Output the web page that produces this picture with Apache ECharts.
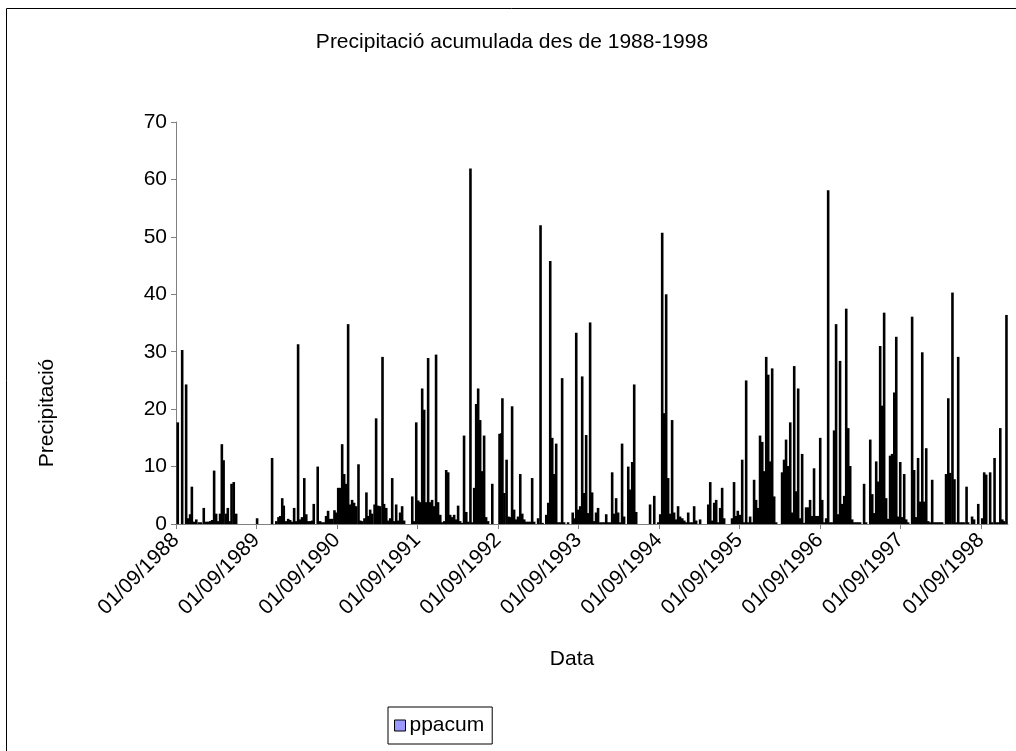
<!DOCTYPE html>
<html>
<head>
<meta charset="utf-8">
<script src="https://cdn.jsdelivr.net/npm/echarts@6/dist/echarts.min.js"></script>
<style>
html,body{margin:0;padding:0;background:#fff;}
#chart{width:1016px;height:751px;}
</style>
</head>
<body>
<div id="chart"></div>
<script>
// ---- data ----
const chartTitle = 'Precipitació acumulada des de 1988-1998';
const seriesName = 'ppacum';
const yName = 'Precipitació';
const xName = 'Data';
const startDate = '1988-09-01';   // day 0 of rainDay
const axisEndDate = '1999-01-02';
const tickLabels = ['01/09/1988','01/09/1989','01/09/1990','01/09/1991','01/09/1992','01/09/1993','01/09/1994','01/09/1995','01/09/1996','01/09/1997','01/09/1998'];
const yTicks = [0,10,20,30,40,50,60,70];
// days since startDate
const rainDay = [
8,28,46,55,64,72,82,92,104,113,126,137,146,155,164,173,182,191,200,208,216,228,235,243,252,262,273,
368,436,455,465,473,482,489,500,509,518,527,536,545,554,563,572,582,591,600,609,618,625,
643,654,663,672,681,690,699,709,719,727,736,745,754,763,772,781,790,799,808,817,828,836,845,855,864,872,881,890,901,908,917,926,937,944,954,963,972,981,990,999,1008,1017,1026,1035,
1072,1081,1090,1099,1108,1117,1126,1135,1144,1153,1162,1171,1180,1189,1199,1208,1217,1226,1235,1244,
1253,1262,1271,1280,1289,1298,1307,1317,1326,1336,1344,1353,1362,1371,1380,1389,1398,1407,1416,1435,1468,1475,1481,1490,1500,1509,1516,1525,1534,1543,1552,1562,1571,1580,1589,1598,1607,1616,1625,1643,1654,1663,1680,1689,1698,1707,1716,1725,1734,1743,1752,1761,1779,1800,1808,1816,1825,1834,1843,1852,1861,1870,1879,1888,
1897,1906,1915,1924,1934,1943,1952,1961,1970,1979,1988,1997,2006,2015,2024,2033,2052,2061,2070,2079,2088,2151,2170,2188,2197,2206,2215,2224,2233,2242,2251,2260,2269,2278,2287,2297,2306,2315,2324,2333,2342,2351,2360,2378,2415,2424,2433,2442,2451,2460,2469,2478,2487,2523,2532,
2540,2549,2558,2569,2578,2587,2596,2605,2614,2623,2632,2641,2650,2660,2669,2678,2687,2696,2705,2714,2723,2750,2759,2768,2778,2787,2796,2805,2814,2823,2832,2841,2850,2859,2868,2877,2886,2895,2905,2914,2923,2932,2941,2950,2959,2968,2977,2986,2995,3004,3013,3023,3032,3041,3050,3059,3068,3077,3086,3095,3104,3122,3131,3150,3159,
3168,3177,3186,3195,3204,3213,3222,3231,3240,3249,3259,3268,3277,3286,3295,3304,3313,3322,3340,3349,3358,3367,3376,3386,3395,3404,3413,3422,3431,3440,3449,3458,3467,3476,3494,3504,3513,3523,3532,3541,3549,3558,3567,3576,3587,3594,3612,3621,3640,3658,3667,3676,3694,3703,3714,3721,3730,3740,3749,3757,3768
];
const rainMm = [
17.7,30.3,24.3,1.0,1.7,6.5,0.4,0.8,0.3,0.3,2.8,0.4,0.4,0.5,0.7,9.3,1.8,0.5,1.8,13.9,11.1,1.8,2.8,0.5,7.0,7.3,1.8,
1.0,11.5,0.5,1.2,1.4,4.5,3.2,0.5,0.9,0.7,0.4,2.8,0.5,31.3,0.8,1.2,8.0,1.7,0.5,0.5,0.6,3.5,
10.0,0.5,0.3,0.3,1.4,2.3,0.9,0.9,2.4,2.0,6.3,6.3,13.9,8.7,7.0,34.8,3.4,4.2,3.7,3.1,10.4,0.6,0.5,1.0,5.5,1.4,2.5,1.8,3.4,18.4,3.2,3.1,29.1,3.5,2.8,0.6,1.0,8.0,0.5,3.4,0.6,2.0,3.1,0.6,
4.8,0.5,17.7,4.1,3.8,23.6,19.9,3.8,28.9,3.8,4.2,3.1,29.5,3.8,1.6,0.3,0.5,9.4,9.0,1.6,
1.2,1.6,0.8,3.2,0.5,0.2,15.4,2.1,0.4,61.9,0.3,6.3,20.9,23.6,18.1,9.2,15.4,1.2,0.5,7.0,15.7,15.8,21.9,5.4,11.2,1.3,1.2,20.5,2.5,0.8,1.3,8.7,1.8,0.8,0.4,0.4,0.4,8.0,0.4,1.0,52.0,0.2,1.6,3.7,45.8,15.0,8.7,14.0,0.3,0.3,25.4,0.3,0.3,2.0,1.0,33.3,2.5,3.1,25.7,5.4,15.5,1.9,35.1,5.5,
0.5,2.0,2.8,0.3,0.3,0.3,1.7,0.3,0.3,9.0,1.8,4.5,2.0,0.3,14.0,1.3,10.0,6.0,10.8,24.3,2.1,3.4,4.9,0.3,1.7,50.7,19.3,40.0,8.0,1.8,18.1,2.0,0.8,3.1,1.3,1.0,0.6,0.3,2.0,0.3,0.3,3.1,0.6,0.8,3.4,7.3,0.6,3.7,4.2,0.3,2.8,6.3,1.0,1.0,7.3,
1.4,2.3,1.6,11.2,0.3,25.0,0.3,1.3,0.3,7.7,4.2,2.8,15.4,14.3,9.2,29.1,26.0,10.9,27.1,4.8,0.3,9.0,11.2,14.7,10.1,17.7,2.0,27.5,5.7,23.6,1.0,12.2,0.2,2.9,2.9,4.2,1.4,9.7,1.4,1.4,15.0,4.2,0.3,1.0,58.1,0.3,0.3,16.3,34.8,1.7,28.4,3.5,4.9,37.5,16.7,10.1,0.8,0.3,0.3,0.3,0.3,7.0,0.3,14.7,5.2,
1.9,10.9,7.4,31.0,20.6,36.8,4.5,0.9,11.9,12.2,22.9,32.6,1.3,10.8,1.2,8.7,0.8,0.3,36.1,9.4,1.2,11.5,3.9,29.9,3.9,13.2,0.5,0.3,7.7,0.3,0.3,0.3,0.3,0.3,8.7,21.9,8.9,40.3,7.8,0.3,29.1,0.3,0.3,0.3,6.5,0.3,1.3,0.8,3.5,1.0,9.0,8.6,9.0,0.3,11.5,0.3,0.3,16.7,0.8,0.5,36.4
];

// ---- build ----
const DAY = 86400000;
function parseISO(s){const p=s.split('-').map(Number);return Date.UTC(p[0],p[1]-1,p[2]);}
function parseDMY(s){const p=s.split('/').map(Number);return Date.UTC(p[2],p[1]-1,p[0]);}
function pad(n){return (n<10?'0':'')+n;}
const t0 = parseISO(startDate);
const dayMax = Math.round((parseISO(axisEndDate) - t0) / DAY);
function fmtDay(v){const d=new Date(t0 + Math.round(v)*DAY);return pad(d.getUTCDate())+'/'+pad(d.getUTCMonth()+1)+'/'+d.getUTCFullYear();}
const seriesData = rainDay.map((d,i)=>[d, rainMm[i]]);
const tickValues = tickLabels.map(s => Math.round((parseDMY(s) - t0) / DAY));

const FONT = 'Arial, "Liberation Sans", sans-serif';
const FS = 21;
const chart = echarts.init(document.getElementById('chart'), null, {renderer:'canvas'});
chart.setOption({
  animation: false,
  backgroundColor: '#fff',
  textStyle: {fontFamily: FONT, color: '#000'},
  grid: {left: 176, right: 8, top: 122, bottom: 227, containLabel: false, outerBoundsMode: 'none'},
  legend: {
    data: [{name: seriesName, icon: 'rect', itemStyle: {color: '#9999ff', borderColor: '#000', borderWidth: 1}}],
    left: 388, top: 707,
    itemWidth: 11, itemHeight: 11, itemGap: 4,
    padding: [8, 8, 8, 6],
    borderColor: '#000', borderWidth: 1,
    textStyle: {fontFamily: FONT, fontSize: FS, color: '#000', padding: [0, 0, 0, -1]}
  },
  xAxis: {
    type: 'value',
    min: 0, max: dayMax,
    splitLine: {show: false},
    axisLine: {lineStyle: {color: '#808080', width: 1}},
    axisTick: {show: true, length: 5, lineStyle: {color: '#808080'}, customValues: tickValues},
    axisLabel: {
      customValues: tickValues,
      rotate: 45, margin: 13,
      fontFamily: FONT, fontSize: FS, color: '#000',
      formatter: function(v){ return fmtDay(v); }
    }
  },
  yAxis: {
    type: 'value', min: 0, max: 70, interval: 10,
    splitLine: {show: false},
    axisLine: {show: true, lineStyle: {color: '#808080', width: 1}},
    axisTick: {show: true, length: 5, lineStyle: {color: '#808080'}},
    axisLabel: {margin: 9, fontFamily: FONT, fontSize: FS, color: '#000',
      formatter: function(v){ return yTicks.indexOf(v) >= 0 ? String(v) : ''; }}
  },
  series: [{
    name: seriesName,
    type: 'bar',
    barWidth: 2.6,
    data: seriesData,
    itemStyle: {color: '#000'},
    emphasis: {disabled: true}
  }],
  graphic: [
    {type: 'rect', shape: {x: 6.5, y: 8.5, width: 1020, height: 760}, style: {fill: 'none', stroke: '#000', lineWidth: 1}, silent: true},
    {type: 'text', x: 512, y: 42, style: {text: chartTitle, fontFamily: FONT, fontSize: FS, fill: '#000', textAlign: 'center', textVerticalAlign: 'middle'}},
    {type: 'text', x: 47, y: 413, rotation: Math.PI/2, style: {text: yName, fontFamily: FONT, fontSize: FS, fill: '#000', textAlign: 'center', textVerticalAlign: 'middle'}},
    {type: 'text', x: 572, y: 659, style: {text: xName, fontFamily: FONT, fontSize: FS, fill: '#000', textAlign: 'center', textVerticalAlign: 'middle'}}
  ]
});
</script>
</body>
</html>
